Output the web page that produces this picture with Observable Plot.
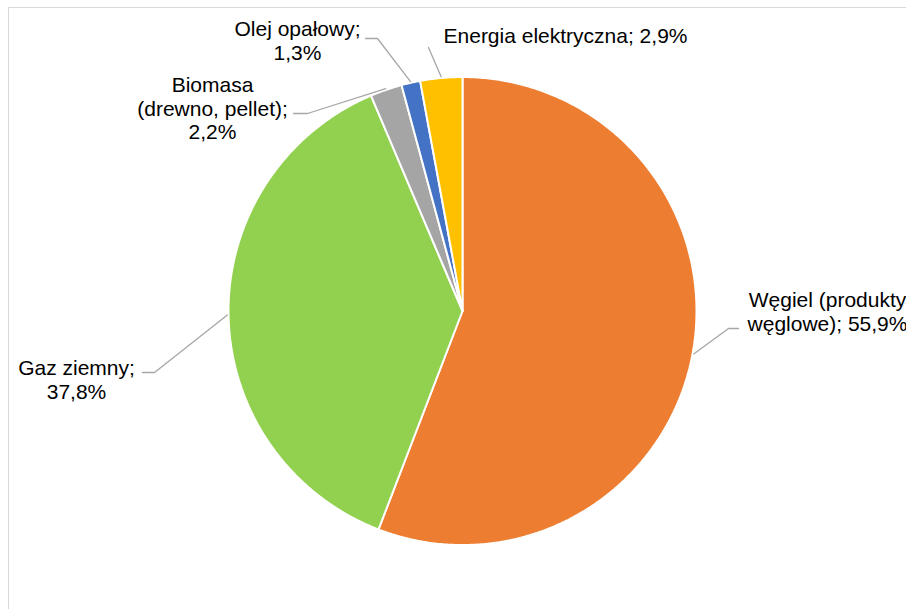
<!DOCTYPE html>
<html><head><meta charset="utf-8">
<script src="https://cdn.jsdelivr.net/npm/d3@7"></script>
<script src="https://cdn.jsdelivr.net/npm/@observablehq/plot@0.6"></script>
<style>
html,body{margin:0;padding:0;background:#fff;overflow:hidden;}
#wrap{position:relative;width:906px;height:609px;overflow:hidden;}
#frame{position:absolute;left:8px;top:7px;width:1200px;height:1200px;border:1.5px solid #d9d9d9;pointer-events:none;}
</style></head><body><div id="wrap"><div id="chart"></div><div id="frame"></div></div>
<script>
// Data
const categories = ["Węgiel (produkty węglowe)", "Gaz ziemny", "Biomasa (drewno, pellet)", "Olej opałowy", "Energia elektryczna"];
const shares = [55.9, 37.8, 2.2, 1.3, 2.9];
const shareLabels = ["55,9%", "37,8%", "2,2%", "1,3%", "2,9%"];
const labelTexts = ["Węgiel (produkty\nwęglowe); 55,9%", "Gaz ziemny;\n37,8%", "Biomasa\n(drewno, pellet);\n2,2%", "Olej opałowy;\n1,3%", "Energia elektryczna; 2,9%"];
const colors = ["#ED7D31", "#92D050", "#A5A5A5", "#4472C4", "#FFC000"];

// Layout (pixels)
const cx = 462, cy = 310.5, R = 234;
const fs = 21;
const labelPos = [ // label centre x, top-of-caps y; leader elbow/end
  {x: 827, top: 290, leader: [[728, 328], [738, 328]]},
  {x: 76, top: 358, leader: [[154, 372], [142, 372]]},
  {x: 212, top: 74.5, leader: [[307, 113], [293, 113]]},
  {x: 297, top: 18.5, leader: [[377, 38], [365, 38]]},
  {x: 565, top: 25.5, leader: [[428, 47]]}
];
const ux = px => (px - cx) / R;
const uy = py => (cy - py) / R;

const arcs = d3.pie().sort(null).value(d => d)(shares);

const sliceMarks = arcs.map((p, i) => {
  const n = Math.max(4, Math.ceil((p.endAngle - p.startAngle) / (Math.PI / 360)));
  const pts = [{x: 0, y: 0}];
  for (let j = 0; j <= n; j++) {
    const a = p.startAngle + (p.endAngle - p.startAngle) * j / n;
    pts.push({x: Math.sin(a), y: Math.cos(a)});
  }
  pts.push({x: 0, y: 0});
  return Plot.line(pts, {x: "x", y: "y", fill: colors[i], stroke: "white", strokeWidth: 2, strokeLinejoin: "miter", curve: "linear"});
});

const leaders = [];
arcs.forEach((p, i) => {
  const m = (p.startAngle + p.endAngle) / 2;
  leaders.push({k: i, x: Math.sin(m) * 1.005, y: Math.cos(m) * 1.005});
  labelPos[i].leader.forEach(([px, py]) => leaders.push({k: i, x: ux(px), y: uy(py)}));
});

const labels = labelTexts.map((t, i) => ({text: t, x: ux(labelPos[i].x), y: uy(labelPos[i].top)}));

const chart = Plot.plot({
  width: 906, height: 609, margin: 0,
  x: {domain: [-1, 1], range: [cx - R, cx + R], axis: null},
  y: {domain: [-1, 1], range: [cy + R, cy - R], axis: null},
  style: {background: "transparent", overflow: "hidden"},
  marks: [
    ...sliceMarks,
    Plot.line(leaders, {x: "x", y: "y", z: "k", stroke: "#A6A6A6", strokeWidth: 1.3}),
    Plot.text(labels, {x: "x", y: "y", text: "text", textAnchor: "middle", lineAnchor: "top", lineHeight: 1.13, fontSize: fs, fontFamily: "Liberation Sans, Arial, sans-serif", fill: "#000"})
  ]
});
document.getElementById("chart").appendChild(chart);
</script>
</body></html>
